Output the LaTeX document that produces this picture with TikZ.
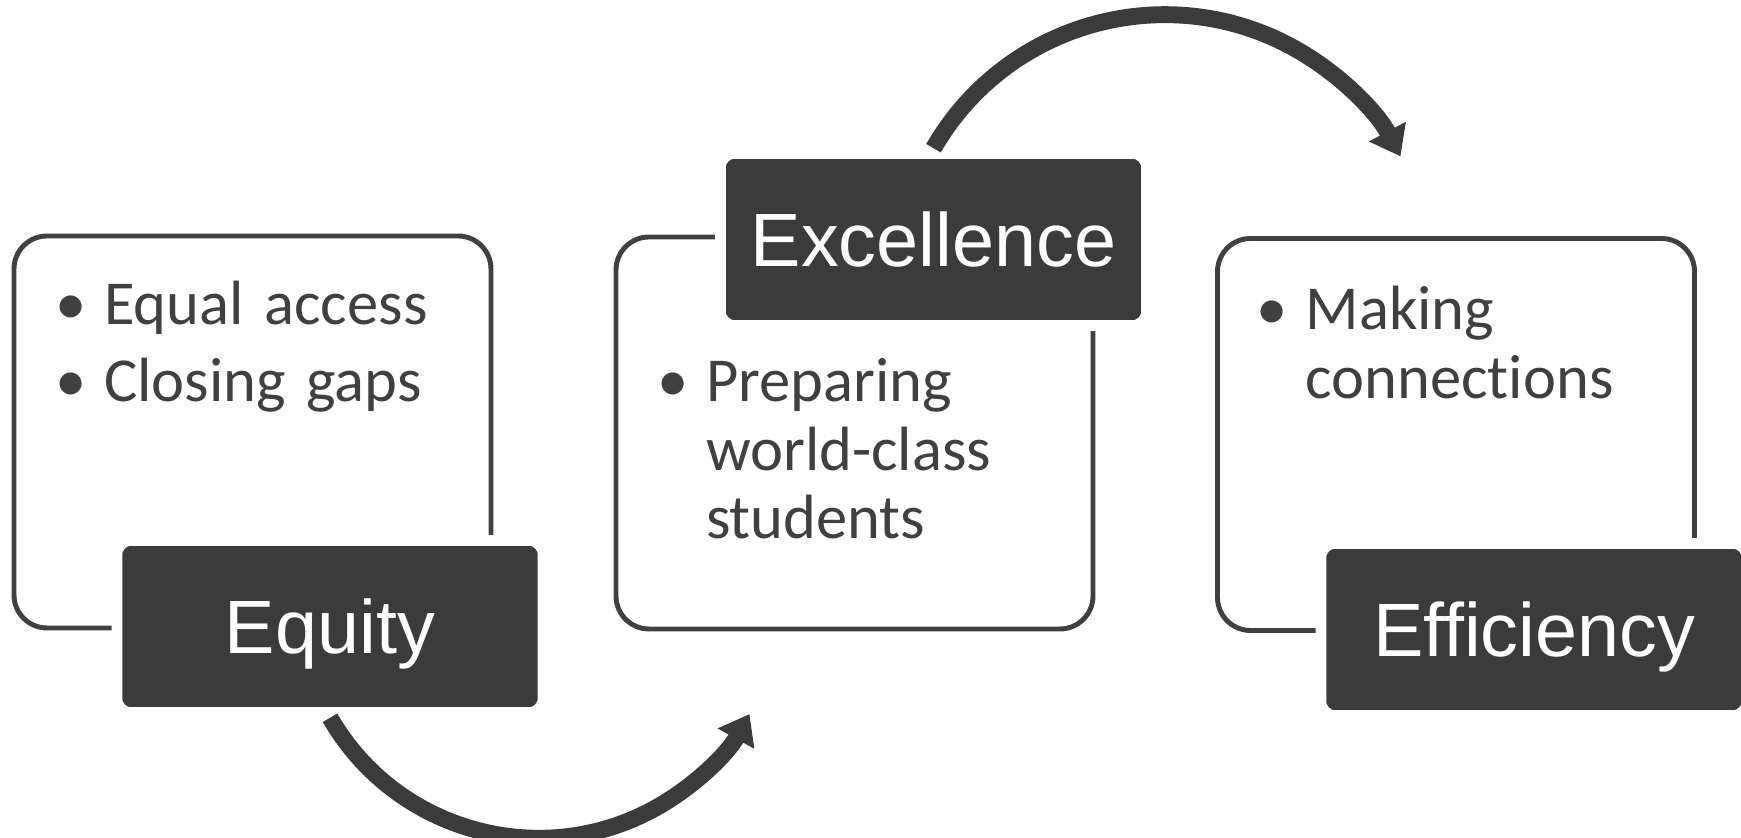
\documentclass[tikz,border=0pt]{standalone}
\usepackage{fontspec}
\setmainfont{Carlito}[Ligatures=NoCommon]
\newfontfamily\tagfont{Liberation Sans}
\usetikzlibrary{arrows.meta}

\definecolor{inkgray}{HTML}{404040}
\definecolor{tagfill}{HTML}{3B3B3B}

\newlength{\bulw}
\setlength{\bulw}{0.49cm}
\newcommand{\bulitem}{\makebox[\bulw][l]{•}}

\tikzset{
  panel/.style={draw=inkgray, line width=1.4pt, rounded corners=0.33cm,
    minimum width=4.77cm, minimum height=3.92cm},
  tagbox/.style={fill=tagfill, draw=white, line width=3pt, rounded corners=0.14cm,
    minimum width=4.26cm, minimum height=1.72cm, inner sep=0pt, text=white,
    font=\tagfont\fontsize{21.5pt}{24pt}\selectfont, text height=15.4pt, text depth=0pt},
  bultext/.style={anchor=base west, inner sep=0pt, text width=4.2cm, align=left,
    text=inkgray, font=\fontsize{17.8pt}{19.4pt}\selectfont},
  cycle arrow/.style={draw=tagfill, line width=4.8pt, -{Triangle[width=4mm, length=2.8mm]}}
}

\begin{document}
\begin{tikzpicture}

    \path[use as bounding box, fill=white] (0,0) rectangle (17.41,8.38);

    % Three panels
    \node[panel] (pequ) at (2.525,4.06) {};
    \node[panel] (pexc) at (8.545,4.05) {};
    \node[panel] (peff) at (14.56,4.035) {};

    % Dark labels sitting on the panels
    \node[tagbox] (equ) at (3.30,2.115) {Equity};
    \node[tagbox] (exc) at (9.335,5.985) {Excellence};
    \node[tagbox] (eff) at (15.34,2.085) {Efficiency};

    % Curved arrows from one label to the next
    \draw[cycle arrow] (equ.south) arc[start angle=210, end angle=331, radius=2.41];
    \draw[cycle arrow] (exc.north) arc[start angle=150, end angle=28, radius=2.67];

    % Bullet points
    \node[bultext] (tequ) at (0.544,5.13) {\bulitem Equal access\\[2.5pt]\bulitem Closing gaps};
    \node[bultext] (texc) at (6.564,4.36) {\bulitem Preparing\\\hspace*{\bulw}world-class\\\hspace*{\bulw}students};
    \node[bultext] (teff) at (12.56,5.08) {\bulitem Making\\\hspace*{\bulw}connections};

\end{tikzpicture}
\end{document}
